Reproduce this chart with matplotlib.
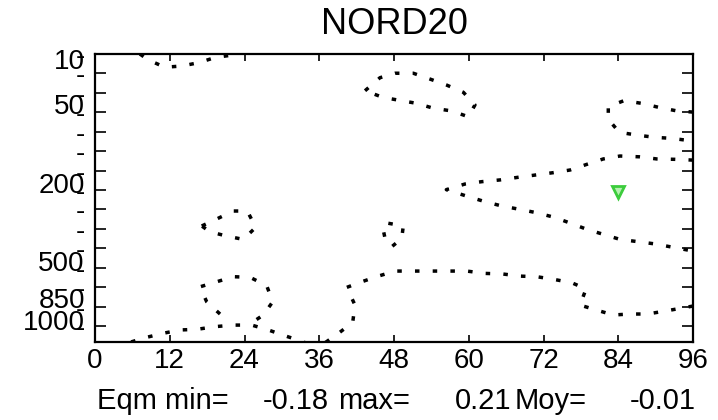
import numpy as np
import matplotlib
matplotlib.use("Agg")
import matplotlib.pyplot as plt

plt.rcParams['font.family'] = ['Liberation Sans', 'DejaVu Sans']

# ---------------- data ----------------
title = "NORD20"
x_ticks = [0, 12, 24, 36, 48, 60, 72, 84, 96]
level_ticks = list(range(15))            # pressure level index (10 hPa at top)
level_labels = ["10", "50", "200", "500", "850", "1000"]
level_label_pos = [0.42, 2.72, 6.8, 10.8, 12.7, 13.85]
stats_parts = ["Eqm min=", "-0.18", "max=", "0.21", "Moy=", "-0.01"]

# contour lines (x: forecast hour, y: level index)
ca_x = [7.2, 8.6, 11.2, 13.9, 16.6, 19.4, 22.2, 23.3]
ca_y = [0.0, 0.31, 0.68, 0.62, 0.45, 0.17, 0.05, 0.0]

cb_x = [43.35, 45.75, 48.16, 51.1, 53.78, 56.46, 59.13, 61.0, 59.93, 57.27, 54.31, 51.65, 48.97, 46.19, 43.35]
cb_y = [1.89, 1.22, 0.99, 0.99, 1.29, 1.60, 1.97, 2.62, 3.23, 2.93, 2.79, 2.54, 2.39, 2.23, 1.89]

cc_x = [96, 93.27, 90.43, 87.77, 84.93, 82.4, 82.4, 84.17, 86.96, 89.9, 92.58, 96]
cc_y = [2.99, 2.92, 2.74, 2.54, 2.40, 2.71, 3.36, 4.03, 4.17, 4.29, 4.34, 4.48]

cd_x = [96, 93.11, 90.17, 87.38, 84.28, 81.6, 78.94, 76.26, 73.48, 70.64, 67.8, 65.02, 62.08, 59.4,
        56.4, 59.93, 62.61, 65.29, 68.12, 70.91, 73.69, 76.37, 78.94, 81.6, 84.28, 87.22, 90.06, 92.84, 96]
cd_y = [5.46, 5.42, 5.40, 5.29, 5.25, 5.40, 5.68, 5.97, 6.11, 6.23, 6.35, 6.48, 6.57, 6.69,
        6.98, 7.34, 7.60, 7.82, 7.99, 8.17, 8.40, 8.71, 9.02, 9.28, 9.54, 9.66, 9.78, 9.95, 10.14]

ce_x = [96, 94.44, 91.5, 88.66, 85.88, 83.21, 80.54, 77.86, 78.83, 76.53, 73.69, 70.91, 68.23, 65.45,
        62.61, 59.67, 56.88, 54.05, 51.1, 48.16, 45.48, 42.82, 40.41, 41.74, 41.37, 39.22, 36.92]
ce_y = [12.97, 13.06, 13.23, 13.38, 13.38, 13.43, 13.18, 12.92, 12.09, 11.77, 11.6, 11.46, 11.43, 11.32,
        11.29, 11.17, 11.17, 11.17, 11.17, 11.17, 11.43, 11.72, 12.01, 12.92, 13.81, 14.34, 14.86]

cf_x = [47.09, 49.49, 49.24, 47.63, 46.55, 46.28, 47.09]
cf_y = [8.71, 8.85, 9.49, 9.92, 9.47, 9.06, 8.71]

cg_x = [17.13, 19.54, 22.2, 24.45, 25.8, 23.81, 21.14, 18.46, 17.13]
cg_y = [8.85, 8.49, 8.08, 8.08, 8.92, 9.54, 9.37, 9.15, 8.85]

ch_x = [20.07, 17.93, 16.86, 19.54, 22.2, 24.88, 27.56, 28.53, 27.02, 25.3]
ch_y = [13.38, 12.75, 11.98, 11.72, 11.46, 11.49, 11.92, 12.75, 13.43, 13.8]

ci_x = [3.0, 5.35, 8.03, 10.96, 13.65, 16.33, 19.26, 22.2, 25.16, 27.82, 30.5, 33.44, 34.5]
ci_y = [14.98, 14.86, 14.6, 14.37, 14.2, 14.17, 14.03, 13.95, 13.95, 14.2, 14.5, 14.81, 14.98]

contours = [(ca_x, ca_y), (cb_x, cb_y), (cc_x, cc_y), (cd_x, cd_y), (ce_x, ce_y),
            (cf_x, cf_y), (cg_x, cg_y), (ch_x, ch_y), (ci_x, ci_y)]

station_x = [84]
station_y = [7.1]

# ---------------- figure ----------------
fig = plt.figure(figsize=(7.18, 4.2), dpi=100)
ax = fig.add_axes([95/718, 1 - 342/420, 598/718, 288/420])

for cx, cy in contours:
    ax.plot(cx, cy, color='black', lw=2.5, linestyle=(0, (1.3, 3.8)),
            dash_capstyle='butt')

ax.plot(station_x, station_y, marker='v', markersize=9, linestyle='none',
        markerfacecolor='#b6f0b0', markeredgecolor='#3ccc3c', markeredgewidth=2)

ax.set_xlim(0, 96)
ax.set_ylim(14.82, 0)

ax.set_xticks(x_ticks)
ax.set_xticklabels([str(v) for v in x_ticks], fontsize=20)
ax.set_yticks(level_ticks)
ax.set_yticklabels(['-'] * len(level_ticks), fontsize=20)

ax.tick_params(axis='x', direction='in', length=5, width=1.2, top=True, pad=4)
ax.tick_params(axis='y', direction='in', length=8, width=1.2, right=True, pad=7)

for lab, pos in zip(level_labels, level_label_pos):
    ax.text(-0.017, pos, lab, transform=ax.get_yaxis_transform(), ha='right',
            va='center', fontsize=20)

for s in ax.spines.values():
    s.set_linewidth(1.6)

fig.text((95 + 693) / 2 / 718, 1 - 25/420, title, ha='center', va='center', fontsize=26)

# stats line pieces, left edges in figure pixels
stats_left_px = [97, 263, 338, 455, 515, 630]
for txt, px in zip(stats_parts, stats_left_px):
    fig.text(px / 718, 1 - 401/420, txt, ha='left', va='center', fontsize=21)

fig.savefig('out.png', dpi=100, facecolor='white')
